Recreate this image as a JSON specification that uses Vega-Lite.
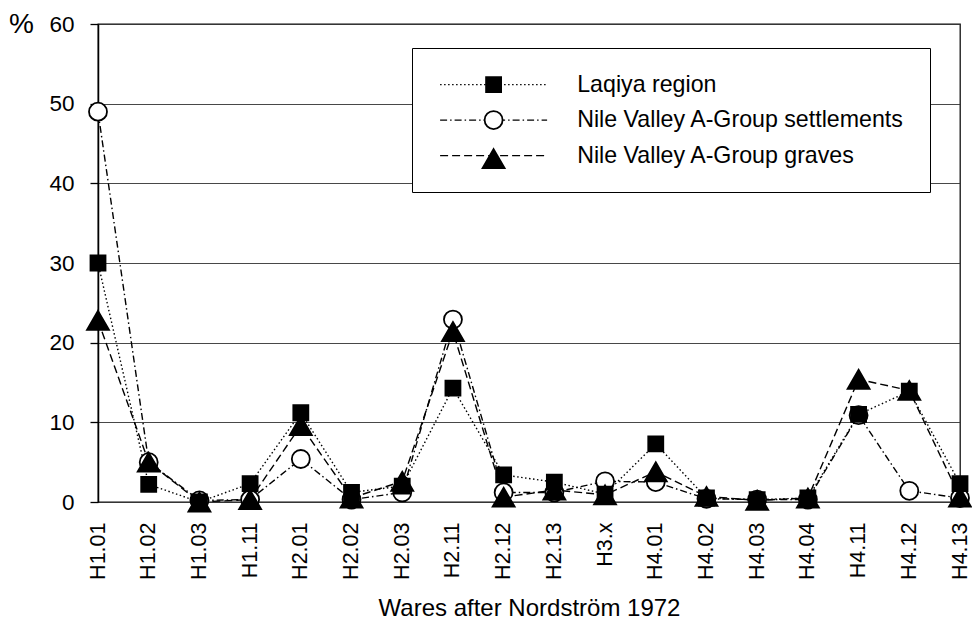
{
  "$schema": "https://vega.github.io/schema/vega-lite/v6.json",
  "width": 862,
  "height": 478,
  "autosize": {"type": "none"},
  "padding": {"left": 98, "top": 24, "right": 12, "bottom": 125},
  "background": "white",
  "config": {
    "font": "Liberation Sans",
    "view": {"stroke": "#111", "strokeWidth": 1.3},
    "legend": {
      "title": null,
      "orient": "none",
      "legendX": 314,
      "legendY": 24,
      "direction": "vertical",
      "padding": 25,
      "symbolSize": 400,
      "symbolOffset": 45,
      "labelOffset": 72,
      "labelFontSize": 23.2,
      "labelColor": "black",
      "rowPadding": 11.5,
      "labelLimit": 500
    }
  },
  "data": {
    "values": [
      {"ware": "H1.01", "series": "Nile Valley A-Group settlements", "value": 49.0},
      {"ware": "H1.02", "series": "Nile Valley A-Group settlements", "value": 5.0},
      {"ware": "H1.03", "series": "Nile Valley A-Group settlements", "value": 0.2},
      {"ware": "H1.11", "series": "Nile Valley A-Group settlements", "value": 0.3},
      {"ware": "H2.01", "series": "Nile Valley A-Group settlements", "value": 5.4},
      {"ware": "H2.02", "series": "Nile Valley A-Group settlements", "value": 0.3},
      {"ware": "H2.03", "series": "Nile Valley A-Group settlements", "value": 1.2},
      {"ware": "H2.11", "series": "Nile Valley A-Group settlements", "value": 22.9},
      {"ware": "H2.12", "series": "Nile Valley A-Group settlements", "value": 1.2},
      {"ware": "H2.13", "series": "Nile Valley A-Group settlements", "value": 1.2},
      {"ware": "H3.x", "series": "Nile Valley A-Group settlements", "value": 2.6},
      {"ware": "H4.01", "series": "Nile Valley A-Group settlements", "value": 2.5},
      {"ware": "H4.02", "series": "Nile Valley A-Group settlements", "value": 0.4},
      {"ware": "H4.03", "series": "Nile Valley A-Group settlements", "value": 0.3},
      {"ware": "H4.04", "series": "Nile Valley A-Group settlements", "value": 0.3},
      {"ware": "H4.11", "series": "Nile Valley A-Group settlements", "value": 10.9},
      {"ware": "H4.12", "series": "Nile Valley A-Group settlements", "value": 1.4},
      {"ware": "H4.13", "series": "Nile Valley A-Group settlements", "value": 0.5},
      {"ware": "H1.01", "series": "Nile Valley A-Group graves", "value": 22.8},
      {"ware": "H1.02", "series": "Nile Valley A-Group graves", "value": 5.0},
      {"ware": "H1.03", "series": "Nile Valley A-Group graves", "value": 0.0},
      {"ware": "H1.11", "series": "Nile Valley A-Group graves", "value": 0.3},
      {"ware": "H2.01", "series": "Nile Valley A-Group graves", "value": 9.6},
      {"ware": "H2.02", "series": "Nile Valley A-Group graves", "value": 0.5},
      {"ware": "H2.03", "series": "Nile Valley A-Group graves", "value": 2.6},
      {"ware": "H2.11", "series": "Nile Valley A-Group graves", "value": 21.4},
      {"ware": "H2.12", "series": "Nile Valley A-Group graves", "value": 0.6},
      {"ware": "H2.13", "series": "Nile Valley A-Group graves", "value": 1.5},
      {"ware": "H3.x", "series": "Nile Valley A-Group graves", "value": 0.9},
      {"ware": "H4.01", "series": "Nile Valley A-Group graves", "value": 3.8},
      {"ware": "H4.02", "series": "Nile Valley A-Group graves", "value": 0.7},
      {"ware": "H4.03", "series": "Nile Valley A-Group graves", "value": 0.2},
      {"ware": "H4.04", "series": "Nile Valley A-Group graves", "value": 0.5},
      {"ware": "H4.11", "series": "Nile Valley A-Group graves", "value": 15.4},
      {"ware": "H4.12", "series": "Nile Valley A-Group graves", "value": 14.0},
      {"ware": "H4.13", "series": "Nile Valley A-Group graves", "value": 0.6},
      {"ware": "H1.01", "series": "Laqiya region", "value": 30.0},
      {"ware": "H1.02", "series": "Laqiya region", "value": 2.2},
      {"ware": "H1.03", "series": "Laqiya region", "value": 0.0},
      {"ware": "H1.11", "series": "Laqiya region", "value": 2.3},
      {"ware": "H2.01", "series": "Laqiya region", "value": 11.2},
      {"ware": "H2.02", "series": "Laqiya region", "value": 1.2},
      {"ware": "H2.03", "series": "Laqiya region", "value": 2.0},
      {"ware": "H2.11", "series": "Laqiya region", "value": 14.3},
      {"ware": "H2.12", "series": "Laqiya region", "value": 3.4},
      {"ware": "H2.13", "series": "Laqiya region", "value": 2.5},
      {"ware": "H3.x", "series": "Laqiya region", "value": 1.0},
      {"ware": "H4.01", "series": "Laqiya region", "value": 7.3},
      {"ware": "H4.02", "series": "Laqiya region", "value": 0.5},
      {"ware": "H4.03", "series": "Laqiya region", "value": 0.3},
      {"ware": "H4.04", "series": "Laqiya region", "value": 0.5},
      {"ware": "H4.11", "series": "Laqiya region", "value": 11.0},
      {"ware": "H4.12", "series": "Laqiya region", "value": 13.9},
      {"ware": "H4.13", "series": "Laqiya region", "value": 2.3}
    ]
  },
  "encoding": {
    "x": {
      "field": "ware",
      "type": "ordinal",
      "scale": {
        "type": "point",
        "padding": 0,
        "domain": ["H1.01", "H1.02", "H1.03", "H1.11", "H2.01", "H2.02", "H2.03", "H2.11", "H2.12", "H2.13", "H3.x", "H4.01", "H4.02", "H4.03", "H4.04", "H4.11", "H4.12", "H4.13"]
      },
      "axis": {
        "title": "Wares after Nordström 1972",
        "titleFontSize": 24,
        "titleFontWeight": "normal",
        "titleColor": "black",
        "titlePadding": 17,
        "labelAngle": 270,
        "labelFontSize": 21.5,
        "labelColor": "black",
        "labelPadding": 20,
        "ticks": false,
        "tickSize": 0,
        "domain": false,
        "grid": false
      }
    },
    "y": {
      "field": "value",
      "type": "quantitative",
      "scale": {"domain": [0, 60], "nice": false},
      "axis": {
        "values": [0, 10, 20, 30, 40, 50, 60],
        "title": "%",
        "titleAngle": 0,
        "titleX": -77,
        "titleY": 0,
        "titleAlign": "center",
        "titleBaseline": "middle",
        "titleFontSize": 28,
        "titleFontWeight": "normal",
        "titleColor": "black",
        "labelFontSize": 22.5,
        "labelColor": "black",
        "labelPadding": 16,
        "grid": true,
        "gridColor": "#333",
        "gridWidth": 0.9,
        "domain": true,
        "domainColor": "black",
        "domainWidth": 1.5,
        "ticks": true,
        "tickSize": 8,
        "tickColor": "black",
        "tickWidth": 1.3
      }
    }
  },
  "layer": [
    {
      "mark": {"type": "line", "color": "black", "strokeWidth": 1.4},
      "encoding": {
        "strokeDash": {
          "field": "series",
          "type": "nominal",
          "sort": ["Laqiya region", "Nile Valley A-Group settlements", "Nile Valley A-Group graves"],
          "scale": {
            "range": [[1.5, 2.5], [7, 3, 1.5, 3], [8, 4]]
          },
          "legend": {
            "strokeColor": "black",
            "fillColor": "white",
            "cornerRadius": 0,
            "symbolType": "M-5.35,0H5.35",
            "symbolStrokeWidth": 1.4,
            "symbolStrokeColor": "black",
            "symbolFillColor": "transparent"
          }
        }
      }
    },
    {
      "mark": {"type": "point", "filled": true, "size": 400, "strokeWidth": 1.8, "opacity": 1},
      "encoding": {
        "shape": {
          "field": "series",
          "type": "nominal",
          "scale": {
            "domain": ["Laqiya region", "Nile Valley A-Group settlements", "Nile Valley A-Group graves"],
            "range": [
              "M-0.75,-0.75H0.75V0.75H-0.75Z",
              "M0.9,0A0.9,0.9,0,1,1,-0.9,0A0.9,0.9,0,1,1,0.9,0Z",
              "M0,-0.95L1.1,0.95L-1.1,0.95Z"
            ]
          },
          "legend": {"labelOpacity": 0, "labelExpr": "''", "symbolStrokeWidth": 1.8}
        },
        "fill": {
          "field": "series",
          "type": "nominal",
          "scale": {
            "domain": ["Laqiya region", "Nile Valley A-Group settlements", "Nile Valley A-Group graves"],
            "range": ["black", "white", "black"]
          },
          "legend": {"labelOpacity": 0, "labelExpr": "''", "symbolStrokeWidth": 1.8}
        },
        "stroke": {
          "field": "series",
          "type": "nominal",
          "scale": {
            "domain": ["Laqiya region", "Nile Valley A-Group settlements", "Nile Valley A-Group graves"],
            "range": ["black", "black", "black"]
          },
          "legend": {"labelOpacity": 0, "labelExpr": "''", "symbolStrokeWidth": 1.8}
        }
      }
    }
  ]
}
